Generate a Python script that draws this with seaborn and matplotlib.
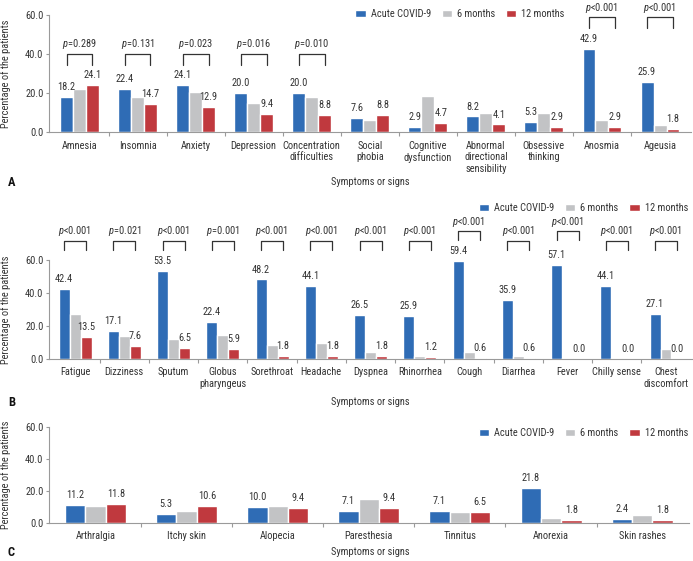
import numpy as np
import pandas as pd
import seaborn as sns
import matplotlib.pyplot as plt
from matplotlib import font_manager
from matplotlib.ticker import FormatStrFormatter

periods = ["Acute COVID-9", "6 months", "12 months"]
colors = ["#2f6cb5", "#c2c3c5", "#c0393e"]

# panel A
a_symptoms = ["Amnesia", "Insomnia", "Anxiety", "Depression", "Concentration\ndifficulties",
              "Social\nphobia", "Cognitive\ndysfunction", "Abnormal\ndirectional\nsensibility",
              "Obsessive\nthinking", "Anosmia", "Ageusia"]
a_acute = [18.2, 22.4, 24.1, 20.0, 20.0, 7.6, 2.9, 8.2, 5.3, 42.9, 25.9]
a_six = [22.0, 18.2, 20.6, 15.2, 18.2, 6.3, 18.4, 9.9, 9.9, 6.3, 3.6]
a_twelve = [24.1, 14.7, 12.9, 9.4, 8.8, 8.8, 4.7, 4.1, 2.9, 2.9, 1.8]
a_pvals = ["=0.289", "=0.131", "=0.023", "=0.016", "=0.010", None, None, None, None, "<0.001", "<0.001"]

# panel B
b_symptoms = ["Fatigue", "Dizziness", "Sputum", "Globus\npharyngeus", "Sorethroat", "Headache",
              "Dyspnea", "Rhinorrhea", "Cough", "Diarrhea", "Fever", "Chilly sense", "Chest\ndiscomfort"]
b_acute = [42.4, 17.1, 53.5, 22.4, 48.2, 44.1, 26.5, 25.9, 59.4, 35.9, 57.1, 44.1, 27.1]
b_six = [27.2, 14.0, 11.8, 14.4, 8.1, 9.3, 4.3, 1.6, 3.9, 1.6, 0.6, 0.6, 5.9]
b_twelve = [13.5, 7.6, 6.5, 5.9, 1.8, 1.8, 1.8, 1.2, 0.6, 0.6, 0.0, 0.0, 0.0]
b_pvals = ["<0.001", "=0.021", "<0.001", "=0.001", "<0.001", "<0.001", "<0.001",
           "<0.001", "<0.001", "<0.001", "<0.001", "<0.001", "<0.001"]

# panel C
c_symptoms = ["Arthralgia", "Itchy skin", "Alopecia", "Paresthesia", "Tinnitus", "Anorexia", "Skin rashes"]
c_acute = [11.2, 5.3, 10.0, 7.1, 7.1, 21.8, 2.4]
c_six = [10.4, 7.5, 10.4, 14.8, 6.9, 2.9, 4.8]
c_twelve = [11.8, 10.6, 9.4, 9.4, 6.5, 1.8, 1.8]
c_pvals = [None] * 7

sns.set_style("ticks")
available = {f.name for f in font_manager.fontManager.ttflist}
fam = "DejaVu Sans"
for cand in ["Roboto Condensed", "Liberation Sans Narrow", "Roboto"]:
    if cand in available:
        fam = cand
        break
plt.rcParams["font.family"] = [fam, "DejaVu Sans"]
plt.rcParams["mathtext.fontset"] = "custom"
plt.rcParams["mathtext.it"] = fam + ":italic"
plt.rcParams["mathtext.rm"] = fam

TXT = "#333333"
SPINE = "#9a9a9a"
FS = 7.5
W = 0.67

fig = plt.figure(figsize=(6.93, 5.61), dpi=100)


def draw_panel(rect, symptoms, acute, six, twelve, pvals, xlim, low, high, legend_xy):
    ax = fig.add_axes(rect)
    n = len(symptoms)
    df = pd.DataFrame({
        "symptom": symptoms * 3,
        "period": [p for p in periods for _ in range(n)],
        "value": acute + six + twelve,
    })
    sns.barplot(data=df, x="symptom", y="value", hue="period", order=symptoms,
                hue_order=periods, palette=colors, width=W, saturation=1,
                errorbar=None, legend=False, ax=ax)
    ax.set_xlim(*xlim)
    ax.set_ylim(0, 60)
    ax.set_yticks([0, 20, 40, 60])
    ax.yaxis.set_major_formatter(FormatStrFormatter("%.1f"))
    ax.set_xlabel("")
    ax.set_ylabel("Percentage of the patients", fontsize=FS, color=TXT)
    wpx = rect[2] * 693
    ax.yaxis.set_label_coords(-37.5 / wpx, 0.5)
    ax.tick_params(axis="y", length=2.5, pad=1.5, labelsize=FS, labelcolor=TXT, color=SPINE, width=0.8)
    ax.tick_params(axis="x", which="major", length=0, pad=6, labelsize=FS, labelcolor=TXT)
    ax.set_xticks(np.arange(n - 1) + 0.5, minor=True)
    ax.tick_params(axis="x", which="minor", length=3, color=SPINE, width=0.8)
    sns.despine(ax=ax)
    for s in ["left", "bottom"]:
        ax.spines[s].set_color(SPINE)
        ax.spines[s].set_linewidth(0.8)

    # value labels on acute and 12 months bars
    for cont, show in zip(ax.containers, [True, False, True]):
        if show:
            ax.bar_label(cont, fmt="%.1f", padding=3.5, fontsize=FS, color=TXT)

    # p-value brackets
    bw = W / 3
    leg = 5.5
    for i, p in enumerate(pvals):
        if p is None:
            continue
        y = high if acute[i] + 9.5 > low - leg else low
        x0, x1 = i - bw, i + bw
        ax.plot([x0, x0, x1, x1], [y - leg, y, y, y - leg], color=TXT, lw=0.9, clip_on=False)
        ax.annotate(f"$p${p}", (i, y), xytext=(0, 2), textcoords="offset points",
                    ha="center", va="bottom", fontsize=FS, color=TXT, annotation_clip=False)

    ax.legend(ax.containers, periods, loc="center right", bbox_to_anchor=legend_xy,
              bbox_transform=fig.transFigure, ncol=3, frameon=False, handlelength=1.0,
              handleheight=0.6, columnspacing=1.0, handletextpad=0.5, fontsize=FS,
              borderaxespad=0, borderpad=0, labelcolor=TXT)
    return ax


draw_panel([0.0707, 0.764, 0.9257, 0.209], a_symptoms, a_acute, a_six, a_twelve, a_pvals,
           (-0.525, 10.525), 40, 58.8, (0.815, 0.975))
draw_panel([0.0707, 0.3606, 0.928, 0.1759], b_symptoms, b_acute, b_six, b_twelve, b_pvals,
           (-0.53, 12.53), 71.5, 77.4, (0.993, 0.629))
draw_panel([0.0707, 0.0683, 0.923, 0.1711], c_symptoms, c_acute, c_six, c_twelve, c_pvals,
           (-0.51, 6.51), 71.5, 77.4, (0.993, 0.228))

for letter, ypx in [("A", 182), ("B", 402), ("C", 552)]:
    fig.text(8 / 693, 1 - ypx / 561, letter, fontsize=9, fontweight="bold", color="#111111",
             ha="left", va="center")
    fig.text(370 / 693, 1 - ypx / 561, "Symptoms or signs", fontsize=FS, color=TXT,
             ha="center", va="center")

fig.savefig("out.png", dpi=100)
